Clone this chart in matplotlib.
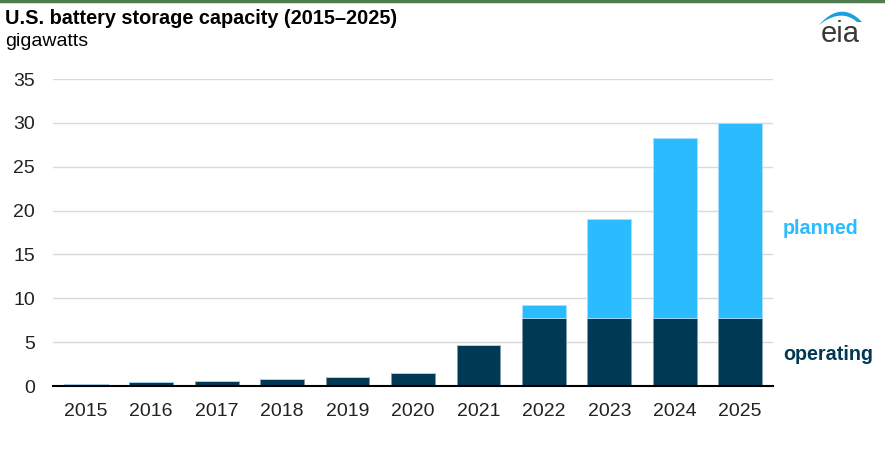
import matplotlib
matplotlib.use("Agg")
import matplotlib.pyplot as plt
import numpy as np
from matplotlib.lines import Line2D
from matplotlib.patches import Polygon

plt.rcParams["font.family"] = ["Liberation Sans", "DejaVu Sans"]

years = ["2015", "2016", "2017", "2018", "2019", "2020",
         "2021", "2022", "2023", "2024", "2025"]
operating = [0.26, 0.46, 0.57, 0.8, 0.99, 1.48, 4.67, 7.8, 7.8, 7.8, 7.8]
planned = [0, 0, 0, 0, 0, 0, 0, 1.4, 11.2, 20.5, 22.2]
y_ticks = [0, 5, 10, 15, 20, 25, 30, 35]

DARK = "#003953"
LIGHT = "#2abcff"

fig = plt.figure(figsize=(8.85, 4.58), dpi=100)
ax = fig.add_axes([0.0599, 0.1572, 0.8135, 0.6703])

x = np.arange(len(years))
ax.bar(x, operating, width=0.67, color=DARK, edgecolor="#7f9aa8", linewidth=0.6, zorder=3)
ax.bar(x, planned, width=0.67, bottom=operating, color=LIGHT, edgecolor="#a8e0ff",
       linewidth=0.6, zorder=3)

ax.set_xlim(-0.5, len(years) - 0.5)
ax.set_ylim(0, 35)
ax.set_yticks(y_ticks)
ax.set_xticks(x)
ax.set_xticklabels(years)
ax.tick_params(axis="both", length=0, labelsize=14, colors="#222222")
ax.tick_params(axis="y", pad=13)
ax.tick_params(axis="x", pad=12)
ax.grid(axis="y", color="#d9d9d9", linewidth=1.0, zorder=0)
for s in ["top", "right", "left"]:
    ax.spines[s].set_visible(False)
ax.spines["bottom"].set_color("black")
ax.spines["bottom"].set_linewidth(1.5)
ax.spines["bottom"].set_zorder(4)

# series labels on the right
fig.text(783 / 885, 1 - 229 / 458, "planned", color=LIGHT, fontsize=14.2,
         fontweight="bold", va="center", ha="left")
fig.text(783 / 885, 1 - 355 / 458, "operating", color=DARK, fontsize=14.2,
         fontweight="bold", va="center", ha="left")

# title block
fig.text(5 / 885, 1 - 18 / 458, "U.S. battery storage capacity (2015\u20132025)",
         fontsize=14.3, fontweight="bold", va="center", ha="left", color="black")
fig.text(5 / 885, 1 - 41 / 458, "gigawatts", fontsize=14, va="center",
         ha="left", color="black")

# top rule
fig.add_artist(Line2D([0, 1], [0.998, 0.998], transform=fig.transFigure,
                      color="#4e7d4e", linewidth=2.5))

# eia logo
fig.text(840 / 885, 1 - 42 / 458, "eia", fontsize=21, color="#3a3a3a",
         va="baseline", ha="center")
t = np.linspace(0, 1, 40)


def bez(p0, p1, p2):
    return ((1 - t) ** 2)[:, None] * np.array(p0) + (2 * (1 - t) * t)[:, None] * np.array(p1) \
        + (t ** 2)[:, None] * np.array(p2)


outer = bez((819, 25), (841, 0), (862, 22))
inner = bez((819, 25), (841, 8), (857, 22))[::-1]
pts = np.vstack([outer, inner])
pts = np.column_stack([pts[:, 0] / 885, 1 - pts[:, 1] / 458])
fig.add_artist(Polygon(pts, closed=True, transform=fig.transFigure,
                       facecolor="#1a9fdf", edgecolor="none"))

fig.savefig("out.png", dpi=100)
